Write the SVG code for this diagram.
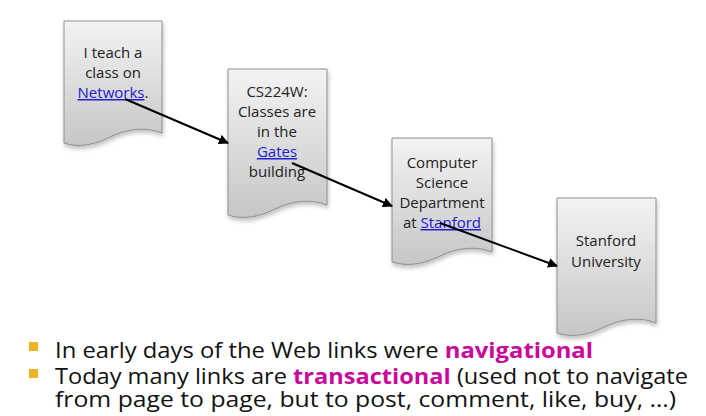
<svg xmlns="http://www.w3.org/2000/svg" width="706" height="416" viewBox="0 0 706 416">
<defs>
<linearGradient id="g" x1="0" y1="0" x2="0" y2="1">
<stop offset="0" stop-color="#f3f3f3"/>
<stop offset="1" stop-color="#c6c6c6"/>
</linearGradient>
<filter id="sh" x="-20%" y="-20%" width="140%" height="140%">
<feGaussianBlur in="SourceAlpha" stdDeviation="2"/>
<feOffset dx="1" dy="3"/>
<feComponentTransfer><feFuncA type="linear" slope="0.25"/></feComponentTransfer>
<feMerge><feMergeNode/><feMergeNode in="SourceGraphic"/></feMerge>
</filter>
<marker id="ah" viewBox="0 0 10 10" refX="9" refY="5" markerWidth="5" markerHeight="5" orient="auto" markerUnits="strokeWidth">
<path d="M0,0 L10,5 L0,10 z" fill="#000"/>
</marker>
</defs>
<style>
.doc{fill:url(#g);stroke:#8f8f8f;stroke-width:1;filter:url(#sh)}
.t{font-family:"Open Sans","Liberation Sans",sans-serif;font-size:15px;fill:#222;text-anchor:middle}
.lk{fill:#2020d0;text-decoration:underline}
.b{font-family:"Open Sans","Liberation Sans",sans-serif;font-size:21px;fill:#111}
.m{fill:#c8099a;font-weight:bold}
.con{stroke:#000;stroke-width:2;fill:none;marker-end:url(#ah)}
</style>
<rect width="706" height="416" fill="#fff"/>
<g id="node1">
<path class="doc" d="M64,21 H162 V133 C148,127 128,128 110,137 C94,145 78,148 64,143 Z"/>
<text class="t" x="113" y="58">I teach a</text>
<text class="t" x="113" y="78">class on</text>
<text class="t" x="113" y="98"><tspan class="lk">Networks</tspan>.</text>
</g>
<g id="node2">
<path class="doc" d="M228,69 H327 V205 C313,199 293,200 275,209 C259,217 243,220 228,215 Z"/>
<text class="t" x="277" y="97">CS224W:</text>
<text class="t" x="277" y="117">Classes are</text>
<text class="t" x="277" y="137">in the</text>
<text class="t lk" x="277" y="157">Gates</text>
<text class="t" x="277" y="177">building</text>
</g>
<g id="node3">
<path class="doc" d="M392,138 H492 V252 C478,246 458,247 440,256 C424,264 408,267 392,262 Z"/>
<text class="t" x="442" y="168">Computer</text>
<text class="t" x="442" y="188">Science</text>
<text class="t" x="442" y="208">Department</text>
<text class="t" x="442" y="228">at <tspan class="lk">Stanford</tspan></text>
</g>
<g id="node4">
<path class="doc" d="M557,198 H656 V323 C642,317 622,318 604,327 C588,335 572,338 557,333 Z"/>
<text class="t" x="606" y="246">Stanford</text>
<text class="t" x="606" y="267">University</text>
</g>
<g id="connectors">
<line class="con" x1="125" y1="99" x2="228" y2="143"/>
<line class="con" x1="292" y1="163" x2="392" y2="206"/>
<line class="con" x1="440" y1="223" x2="557" y2="266"/>
</g>
<g id="bullets">
<rect x="29" y="342" width="9" height="9" fill="#f0b323"/>
<rect x="29" y="369" width="9" height="9" fill="#f0b323"/>
<text class="b" x="55" y="358" textLength="538" lengthAdjust="spacingAndGlyphs">In early days of the Web links were <tspan class="m">navigational</tspan></text>
<text class="b" x="55" y="384" textLength="633" lengthAdjust="spacingAndGlyphs">Today many links are <tspan class="m">transactional</tspan> (used not to navigate</text>
<text class="b" x="55" y="407" textLength="621" lengthAdjust="spacingAndGlyphs">from page to page, but to post, comment, like, buy, …)</text>
</g>
</svg>
